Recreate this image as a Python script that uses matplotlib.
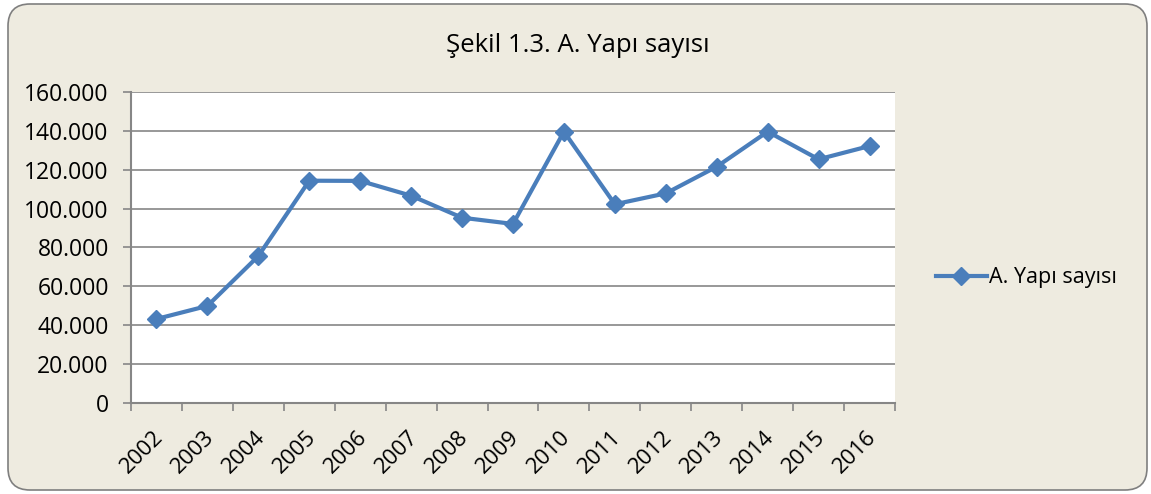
import matplotlib
matplotlib.use("Agg")
import matplotlib.pyplot as plt
from matplotlib.patches import FancyBboxPatch
from matplotlib.ticker import FuncFormatter, MultipleLocator
from matplotlib.transforms import ScaledTranslation
import numpy as np

years = ["2002", "2003", "2004", "2005", "2006", "2007", "2008", "2009",
         "2010", "2011", "2012", "2013", "2014", "2015", "2016"]
values = [43300, 50000, 75600, 114300, 114200, 106600, 95300, 92100,
          139500, 102200, 107800, 121500, 139500, 125300, 132100]
series_name = "A. Yapı sayısı"
title = "Şekil 1.3. A. Yapı sayısı"

plt.rcParams['font.family'] = ['Open Sans', 'DejaVu Sans']

W, H = 1151, 494
fig = plt.figure(figsize=(W / 100, H / 100), dpi=100, facecolor="white")

# background frame in pixel coordinates
bgax = fig.add_axes([0, 0, 1, 1], zorder=-10)
bgax.set_xlim(0, W)
bgax.set_ylim(0, H)
bgax.axis("off")
bgax.add_patch(FancyBboxPatch((8, 4), 1139, 486,
                              boxstyle="round,pad=0,rounding_size=22",
                              facecolor="#EEEBE0", edgecolor="#7F7F7F",
                              linewidth=1.2))

left, right = 131 / W, 895 / W
bottom, top = (H - 403.3) / H, (H - 91.7) / H
ax = fig.add_axes([left, bottom, right - left, top - bottom])
ax.set_facecolor("white")

x = np.arange(len(years))
ax.plot(x, values, color="#4A7EBB", linewidth=3, marker="D", markersize=9.5,
        label=series_name, zorder=3)

ax.set_xlim(-0.5, len(years) - 0.5)
ax.set_ylim(0, 160000)
ax.yaxis.set_major_locator(MultipleLocator(20000))
ax.yaxis.set_major_formatter(FuncFormatter(lambda v, p: f"{int(v):,}".replace(",", ".")))
ax.grid(axis="y", color="#868686", linewidth=1.2)
ax.set_axisbelow(True)

ax.set_xticks(x)
ax.set_xticklabels(years, rotation=45, ha="right", rotation_mode="anchor")
ax.set_xticks(np.arange(len(years) + 1) - 0.5, minor=True)
ax.tick_params(axis="x", which="major", length=0, pad=17, labelsize=16)
ax.tick_params(axis="x", which="minor", length=6, color="#868686", width=1.2,
               direction="out")
ax.tick_params(axis="y", length=6, color="#868686", width=1.2, labelsize=16.5,
               pad=10)
shift = ScaledTranslation(-4 / 100, 0, fig.dpi_scale_trans)
for lab in ax.get_xticklabels():
    lab.set_transform(lab.get_transform() + shift)

for s in ["top", "right"]:
    ax.spines[s].set_visible(False)
for s in ["left", "bottom"]:
    ax.spines[s].set_color("#868686")
    ax.spines[s].set_linewidth(1.5)

fig.text(578 / W, (H - 46) / H, title, ha="center", va="center", fontsize=18.5)

leg = fig.legend(loc="center left", bbox_to_anchor=(927 / W, (H - 278) / H),
                 frameon=False, fontsize=15.5, handlelength=2.4,
                 handletextpad=0.1, borderaxespad=0)

fig.savefig("out.png", dpi=100, facecolor="white")
